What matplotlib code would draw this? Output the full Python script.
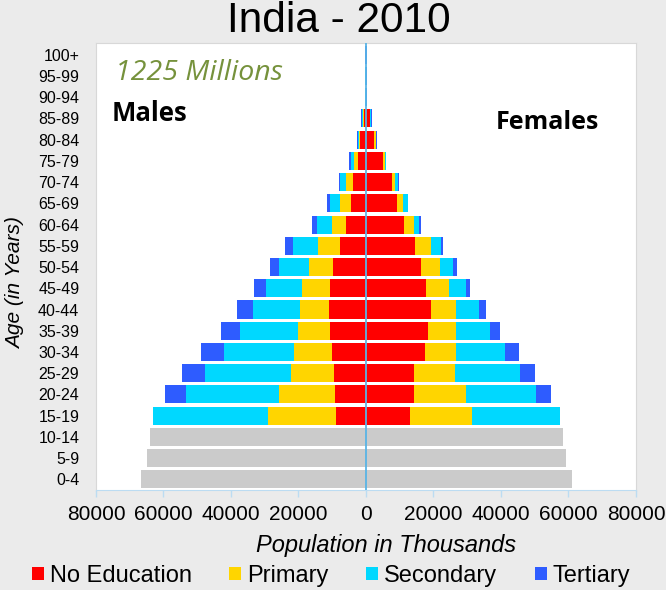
import matplotlib
matplotlib.use('Agg')
import matplotlib.pyplot as plt
from matplotlib.patches import Patch
import numpy as np

ages = ['0-4', '5-9', '10-14', '15-19', '20-24', '25-29', '30-34', '35-39', '40-44',
        '45-49', '50-54', '55-59', '60-64', '65-69', '70-74', '75-79', '80-84',
        '85-89', '90-94', '95-99', '100+']

# Under-15 totals (thousands), no education breakdown
male_child = [66670, 64800, 63900]
female_child = [61140, 59360, 58470]

# Ages 15-19 ... 100+ by education (thousands)
male_noed = [8990, 9290, 9580, 10170, 10670, 10870, 10580, 9690, 7700, 6020,
             4440, 3950, 2270, 1680, 500, 0, 0, 0]
male_prim = [20150, 16490, 12540, 11060, 9380, 8690, 8390, 7200, 6620, 4150,
             3260, 1980, 1280, 450, 350, 0, 0, 0]
male_sec = [33880, 27560, 25680, 20740, 17280, 13830, 10760, 8890, 7210, 4440,
            2960, 1900, 990, 350, 400, 150, 160, 130]
male_ter = [0, 6320, 6620, 7010, 5530, 4840, 3380, 2670, 2370, 1380,
            990, 300, 490, 190, 230, 150, 160, 130]

female_noed = [13040, 14220, 14220, 17580, 18470, 19360, 17880, 16390, 14520, 11160,
               9090, 7600, 4940, 2400, 1090, 0, 0, 0]
female_prim = [18270, 15310, 12250, 9090, 8200, 7310, 6720, 5530, 4640, 3060,
               1980, 990, 690, 450, 250, 0, 0, 0]
female_sec = [26270, 20740, 19260, 14420, 10170, 6810, 4940, 3950, 2960, 1580,
              1280, 990, 200, 250, 200, 100, 100, 80]
female_ter = [0, 4540, 4440, 4250, 2960, 2070, 1380, 1090, 590, 490,
              150, 100, 100, 150, 100, 100, 100, 80]

categories = ['No Education', 'Primary', 'Secondary', 'Tertiary']
colors = ['#ff0000', '#ffd500', '#00d8ff', '#2e5cff']
child_color = '#cbcbcb'

BG = '#ebebeb'
plt.rcParams['font.family'] = ['Liberation Sans', 'DejaVu Sans']

fig = plt.figure(figsize=(6.66, 5.90), dpi=100, facecolor=BG)
ax = fig.add_axes([0.1441, 0.1695, 0.8108, 0.7576])
ax.set_facecolor('white')

h = 0.85
y_child = np.arange(3)
ax.barh(y_child, [-v for v in male_child], height=h, color=child_color, zorder=2)
ax.barh(y_child, female_child, height=h, color=child_color, zorder=2)

y_adult = np.arange(3, len(ages))
male_series = [male_noed, male_prim, male_sec, male_ter]
female_series = [female_noed, female_prim, female_sec, female_ter]
cum_m = np.zeros(len(y_adult))
cum_f = np.zeros(len(y_adult))
for ms, fs, c in zip(male_series, female_series, colors):
    ms = np.array(ms, dtype=float)
    fs = np.array(fs, dtype=float)
    ax.barh(y_adult, -ms, left=-cum_m, height=h, color=c, zorder=2)
    ax.barh(y_adult, fs, left=cum_f, height=h, color=c, zorder=2)
    cum_m += ms
    cum_f += fs

ax.axvline(0, color='#5ab4e5', lw=1.3, zorder=3)

ax.set_xlim(-80000, 80000)
ax.set_ylim(-0.5, 20.55)
xt = np.arange(-80000, 80001, 20000)
ax.set_xticks(xt)
ax.set_xticklabels([str(abs(v)) for v in xt], fontsize=15)
ax.set_yticks(np.arange(len(ages)))
ax.set_yticklabels(ages, fontsize=11.5)
ax.tick_params(axis='y', length=0, pad=12)
ax.tick_params(axis='x', length=5, color='#bcdcf2', pad=6, width=1)
for s in ['left', 'top', 'right']:
    ax.spines[s].set_color('#d8d8d8')
ax.spines['bottom'].set_color('#bcdcf2')

fig.text(0.508, 0.946, 'India - 2010', ha='center', va='baseline', fontsize=30.5)
fig.text(0.1727, 0.876, '1225 Millions', ha='left', va='center', fontsize=20.5,
         style='italic', color='#76923c', family=['Open Sans', 'DejaVu Sans'])
fig.text(0.168, 0.808, 'Males', ha='left', va='center', fontsize=18.5,
         weight='bold', family=['Open Sans', 'DejaVu Sans'])
fig.text(0.745, 0.793, 'Females', ha='left', va='center', fontsize=18,
         weight='bold', family=['Open Sans', 'DejaVu Sans'])
fig.text(0.58, 0.076, 'Population in Thousands', ha='center', va='center',
         fontsize=17, style='italic')
fig.text(0.024, 0.52, 'Age (in Years)', ha='center', va='center',
         fontsize=15, style='italic', rotation=90)

handles = [Patch(facecolor=c, edgecolor='none', label=l) for c, l in zip(colors, categories)]
leg = fig.legend(handles=handles, loc='center', bbox_to_anchor=(0.497, 0.024), ncol=4,
                 frameon=False, fontsize=17, handlelength=0.5, handleheight=0.45,
                 handletextpad=0.25, columnspacing=1.6, borderaxespad=0, borderpad=0)

fig.savefig('out.png', dpi=100, facecolor=BG)
